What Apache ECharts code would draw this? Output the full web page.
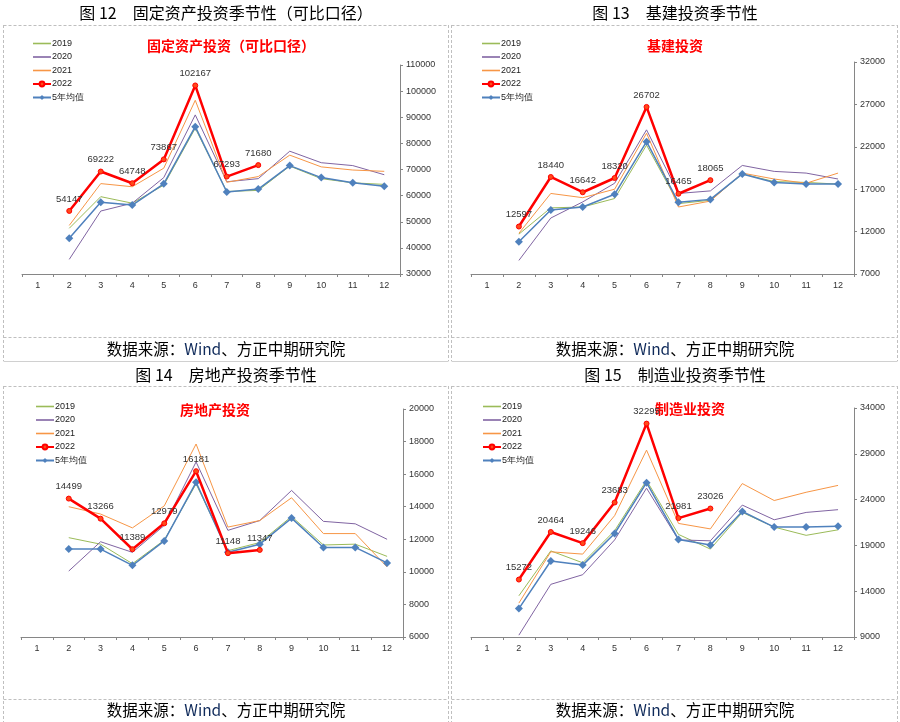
<!DOCTYPE html>
<html>
<head>
<meta charset="utf-8">
<script src="https://cdn.jsdelivr.net/npm/echarts@6/dist/echarts.min.js"></script>
<style>
html,body{margin:0;padding:0;background:#fff;}
#c{width:900px;height:722px;}
</style>
</head>
<body>
<div id="c"></div>
<script>
// ---- data ----
const months = ['1','2','3','4','5','6','7','8','9','10','11','12'];
const seriesNames = ['2019','2020','2021','2022','5年均值'];

// 固定资产投资（可比口径）
const fai2019 = [null,47500,59600,57100,64000,85800,61600,62000,71300,66500,64900,64300];
const fai2020 = [null,35600,54100,57100,66900,90900,65300,66500,77000,72600,71500,68000];
const fai2021 = [null,48600,64600,63400,70500,96500,65100,67300,75500,71000,69800,69300];
const fai2022 = [null,54147,69222,64748,73867,102167,67293,71680,null,null,null,null];
const faiAvg  = [null,43700,57500,56400,64500,86400,61400,62500,71500,66900,64900,63600];

// 基建投资
const inf2019 = [null,11700,14800,14900,15900,22200,15300,15700,18800,17900,17800,17600];
const inf2020 = [null,8600,13600,15500,17700,24000,16500,16800,19800,19100,18900,18200];
const inf2021 = [null,11800,16500,16000,17000,23600,14900,15600,18900,18200,17700,18900];
const inf2022 = [null,12597,18440,16642,18320,26702,16465,18065,null,null,null,null];
const infAvg  = [null,10800,14550,14900,16400,22600,15450,15800,18800,17800,17600,17600];

// 房地产投资
const re2019 = [null,12100,11700,10500,11950,15400,11300,11800,13400,11650,11700,10950];
const re2020 = [null,10050,11850,11200,12850,16750,12550,13150,15000,13100,12950,12000];
const re2021 = [null,14000,13550,12700,14050,17850,12750,13150,14550,12350,12350,10300];
const re2022 = [null,14499,13266,11389,12979,16181,11148,11347,null,null,null,null];
const reAvg  = [null,11400,11400,10400,11900,15500,11200,11700,13300,11500,11500,10550];

// 制造业投资
const mfg2019 = [null,13500,18400,17100,20600,26100,20200,18600,22600,21000,20100,20700];
const mfg2020 = [null,9200,14750,15800,19600,25250,19600,19500,23400,21800,22600,22900];
const mfg2021 = [null,12700,18300,18050,22250,29400,21400,20800,25750,23900,24800,25550];
const mfg2022 = [null,15272,20464,19246,23683,32295,21981,23026,null,null,null,null];
const mfgAvg  = [null,12100,17300,16850,20300,25850,19650,19050,22700,21000,21000,21100];

// y-axis ticks
const yTicks = [
  {min:30000, max:110000, interval:10000},
  {min:7000,  max:32000,  interval:5000},
  {min:6000,  max:20000,  interval:2000},
  {min:9000,  max:34000,  interval:5000}
];

const panelTitles = ['图 12　固定资产投资季节性（可比口径）','图 13　基建投资季节性','图 14　房地产投资季节性','图 15　制造业投资季节性'];
const innerTitles = ['固定资产投资（可比口径）','基建投资','房地产投资','制造业投资'];
const panelData = [
  [fai2019,fai2020,fai2021,fai2022,faiAvg],
  [inf2019,inf2020,inf2021,inf2022,infAvg],
  [re2019,re2020,re2021,re2022,reAvg],
  [mfg2019,mfg2020,mfg2021,mfg2022,mfgAvg]
];

// ---- layout ----
const grids = [
  {left:22,  top:65,  width:378, height:209},
  {left:471, top:62,  width:383, height:212},
  {left:21,  top:409, width:382, height:228},
  {left:471, top:408, width:383, height:229}
];
const panelCx = [226, 675, 226, 675];
const titleY = [5, 5, 367, 367];
const innerTitle = [{x:231,y:39},{x:675,y:39},{x:215,y:403},{x:690,y:402}];
const sourceY = [341, 341, 702, 702];
const legendPos = [{l:32,t:39},{l:481,t:39},{l:35,t:402},{l:482,t:402}];

const styles = [
  {color:'#9BBB59', width:1},
  {color:'#8064A2', width:1},
  {color:'#F79646', width:1},
  {color:'#FF0000', width:2.5},
  {color:'#4F81BD', width:1.5}
];

const textFont = '"Noto Sans CJK SC", "Liberation Sans", sans-serif';
const numFont = '"Liberation Sans", "DejaVu Sans", sans-serif';
const thinLine = 'path://M0,0 H18 V1.6 H0 Z';

const titles = [];
const legends = [];
const xAxes = [];
const yAxes = [];
const series = [];

for (let p = 0; p < 4; p++) {
  titles.push({
    text: panelTitles[p], left: panelCx[p], top: titleY[p], textAlign: 'center', padding: 0,
    textStyle: {fontSize: 16, fontWeight: 'normal', color: '#000', fontFamily: textFont}
  });
  titles.push({
    text: innerTitles[p], left: innerTitle[p].x, top: innerTitle[p].y, textAlign: 'center', padding: 0,
    textStyle: {fontSize: 14, fontWeight: 'bold', color: '#FF0000', fontFamily: '"Noto Sans CJK SC", serif'}
  });
  titles.push({
    text: '{a|数据来源：}{b|Wind}{a|、方正中期研究院}', left: panelCx[p], top: sourceY[p], textAlign: 'center', padding: 0,
    textStyle: {
      fontWeight: 'normal',
      rich: {
        a: {fontSize: 15.5, color: '#000', fontWeight: 'normal', fontFamily: textFont},
        b: {fontSize: 15.5, color: '#0F2A5A', fontWeight: 'normal', fontFamily: textFont}
      }
    }
  });
  legends.push({
    orient: 'vertical', left: legendPos[p].l, top: legendPos[p].t, padding: 0,
    itemWidth: 18, itemHeight: 6, itemGap: 4.5,
    data: [
      {name: '2019', icon: thinLine},
      {name: '2020', icon: thinLine},
      {name: '2021', icon: thinLine},
      {name: '2022'},
      {name: '5年均值'}
    ],
    textStyle: {fontSize: 9, lineHeight: 7.5, color: '#222', fontFamily: numFont, padding: [0,0,0,-4]},
    selectedMode: false
  });
  xAxes.push({
    gridIndex: p, type: 'category', data: months, boundaryGap: true,
    axisLine: {lineStyle: {color: '#868686', width: 1}},
    axisTick: {show: true, length: 3, interval: 0, lineStyle: {color: '#868686'}},
    axisLabel: {fontSize: 9, color: '#333', margin: 7, fontFamily: numFont, interval: 0},
    splitLine: {show: false}
  });
  yAxes.push({
    gridIndex: p, type: 'value', position: 'right',
    min: yTicks[p].min, max: yTicks[p].max, interval: yTicks[p].interval,
    axisLine: {show: true, lineStyle: {color: '#868686', width: 1}},
    axisTick: {show: true, length: 3, lineStyle: {color: '#868686'}},
    axisLabel: {fontSize: 9, color: '#333', margin: 6, fontFamily: numFont, formatter: function (v) { return String(v); }},
    splitLine: {show: false}
  });
  for (let s = 0; s < 5; s++) {
    const st = styles[s];
    const ser = {
      name: seriesNames[s], type: 'line', xAxisIndex: p, yAxisIndex: p,
      data: panelData[p][s], connectNulls: false,
      lineStyle: {color: st.color, width: st.width},
      itemStyle: {color: st.color},
      symbol: 'none', animation: false, z: 2 + s
    };
    if (s === 3) {
      ser.symbol = 'circle'; ser.symbolSize = 5; ser.showSymbol = true;
      ser.itemStyle = {color: '#FF4A1A', borderColor: '#FF0000', borderWidth: 1};
      ser.label = {show: true, position: 'top', distance: 4, fontSize: 9.5, color: '#333', fontFamily: numFont};
      ser.z = 10;
    }
    if (s === 4) {
      ser.symbol = 'diamond'; ser.symbolSize = 8; ser.showSymbol = true;
      ser.itemStyle = {color: '#4F81BD'};
      ser.z = 9;
    }
    series.push(ser);
  }
}

// ---- frame lines (decoration) ----
const dash = {stroke: '#BFBFBF', lineWidth: 1, lineDash: [3, 2]};
const graphics = [];
function hline(x1, x2, y, style) { graphics.push({type:'line', shape:{x1:x1,y1:y,x2:x2,y2:y}, style: style || dash, silent:true}); }
function vline(x, y1, y2) { graphics.push({type:'line', shape:{x1:x,y1:y1,x2:x,y2:y2}, style: dash, silent:true}); }
[[3.5,448.5],[451.5,897.5]].forEach(function(c){
  hline(c[0], c[1], 25.5);
  hline(c[0], c[1], 337.5);
  hline(c[0], c[1], 361.5, {stroke:'#D0D0D0', lineWidth:1});
  hline(c[0], c[1], 386.5);
  hline(c[0], c[1], 699.5);
  vline(c[0], 25, 361); vline(c[1], 25, 361);
  vline(c[0], 386, 722); vline(c[1], 386, 722);
});

const chart = echarts.init(document.getElementById('c'), null, {renderer: 'canvas'});
chart.setOption({
  backgroundColor: '#fff',
  animation: false,
  title: titles,
  legend: legends,
  grid: grids,
  xAxis: xAxes,
  yAxis: yAxes,
  series: series,
  graphic: graphics
});
</script>
</body>
</html>
